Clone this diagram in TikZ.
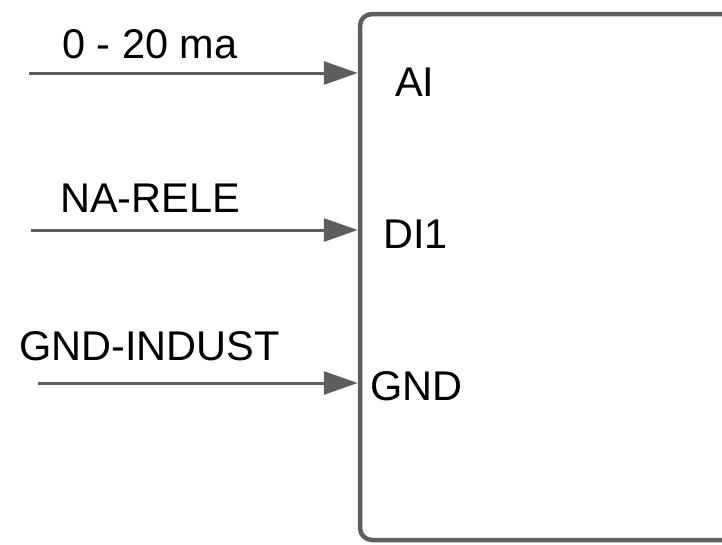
\documentclass[tikz,border=0pt]{standalone}
\usepackage{fontspec}
\setmainfont{Liberation Sans}
\usetikzlibrary{arrows.meta}
\definecolor{wire}{HTML}{5E5E5E}
\tikzset{
  x=1pt, y=1pt,
  lbl/.style={anchor=base west, inner sep=0pt, font=\fontsize{41.5}{50}\selectfont, text=black},
  wirearrow/.style={draw=wire, line width=3pt, -{Triangle[length=34pt, width=23pt]}},
  module/.style={draw=wire, line width=4.5pt, rounded corners=12pt, fill=white,
    minimum width=400pt, minimum height=526pt, inner sep=0pt}
}
\begin{document}
\begin{tikzpicture}
\useasboundingbox (0,0) rectangle (722,-544);
\clip (0,0) rectangle (722,-544);
% controller block (right side runs off the page)
\node[module] (box) at (560,-277) {};
% inputs
\coordinate (s1) at (29,-73);
\coordinate (s2) at (31,-230);
\coordinate (s3) at (38,-383);
\draw[wirearrow] (s1) -- (s1 -| box.west);
\draw[wirearrow] (s2) -- (s2 -| box.west);
\draw[wirearrow] (s3) -- (s3 -| box.west);
% signal names
\node[lbl] (l1) at (62,-58) {0 - 20 ma};
\node[lbl] (l2) at (60,-212) {NA-RELE};
\node[lbl] (l3) at (19,-360) {GND-INDUST};
% terminal names
\node[lbl] (t1) at (395,-96) {AI};
\node[lbl] (t2) at (383,-248) {DI1};
\node[lbl] (t3) at (370,-400) {GND};
\end{tikzpicture}
\end{document}
